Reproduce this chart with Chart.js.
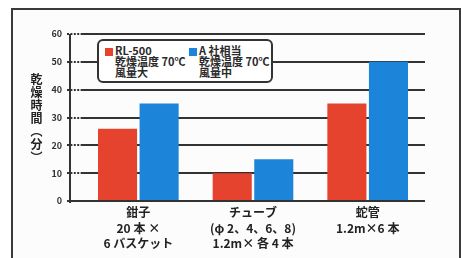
<!DOCTYPE html>
<html><head><meta charset="utf-8">
<script src="https://cdn.jsdelivr.net/npm/chart.js@4/dist/chart.umd.min.js"></script>
<style>
html,body{margin:0;padding:0;background:#fff;}
#wrap{position:relative;width:461px;height:258px;overflow:hidden;}
#frame{position:absolute;left:11px;top:8px;width:446px;height:260px;border:2px solid #3a3a3a;background:#fcfcfc;}
#c{position:absolute;left:0;top:0;}
#ytitle{position:absolute;left:28px;top:73px;writing-mode:vertical-rl;text-orientation:mixed;font:bold 12px "Noto Sans CJK JP";letter-spacing:1px;color:#222;}
#legend{position:absolute;left:97px;top:39px;width:172px;height:40px;border:2px solid #333;border-radius:6px;background:#fff;font:bold 11px/11px "Noto Sans CJK JP";color:#2a2a2a;}
.col{position:absolute;top:4px;}
.sw{position:absolute;left:0;top:3px;width:8px;height:8px;}
.txt{position:absolute;left:10px;top:0;white-space:nowrap;}
</style></head>
<body><div id="wrap"><div id="frame"></div><canvas id="c" width="461" height="258"></canvas>
<div id="ytitle"></div><div id="legend"></div></div>
<script>
const categories = [["鉗子","20 本 ×","6 バスケット"],["チューブ","(φ 2、4、6、8)","1.2m× 各 4 本"],["蛇管","1.2m×6 本"]];
const seriesNames = [["RL-500","乾燥温度 70℃","風量大"],["A 社相当","乾燥温度 70℃","風量中"]];
const rl500 = [26, 10, 35];
const companyA = [35, 15, 50];
const yTicks = [0,10,20,30,40,50,60];
const yTitle = "乾燥時間（分）";
const colors = ["#e5432d","#1c84d9"];

document.getElementById('ytitle').textContent = yTitle;
const leg = document.getElementById('legend');
[6, 90].forEach((x,i)=>{
  const col=document.createElement('div');col.className='col';col.style.left=x+'px';
  const sw=document.createElement('div');sw.className='sw';sw.style.background=colors[i];col.appendChild(sw);
  const t=document.createElement('div');t.className='txt';t.innerHTML=seriesNames[i].join('<br>');col.appendChild(t);
  leg.appendChild(col);
});

const axisPlugin = {
  id:'axisLines',
  afterDraw(chart){
    const {ctx, chartArea:a} = chart;
    ctx.save();
    ctx.strokeStyle='#333';ctx.lineWidth=2;ctx.setLineDash([]);
    ctx.beginPath();ctx.moveTo(a.left-11,a.bottom);ctx.lineTo(a.right-2,a.bottom);ctx.stroke();
    ctx.beginPath();ctx.moveTo(a.left-11,a.top);ctx.lineTo(a.left-11,a.bottom+2);ctx.stroke();
    ctx.restore();
  }
};

new Chart(document.getElementById('c'),{
  type:'bar',
  data:{labels:categories,datasets:[
    {label:seriesNames[0][0],data:rl500,backgroundColor:colors[0]},
    {label:seriesNames[1][0],data:companyA,backgroundColor:colors[1]}
  ]},
  options:{
    responsive:false,animation:false,
    layout:{padding:{left:0,right:36,top:34,bottom:0}},
    datasets:{bar:{categoryPercentage:0.725,barPercentage:0.94}},
    plugins:{legend:{display:false},tooltip:{enabled:false}},
    scales:{
      x:{
        grid:{display:false,drawTicks:false},
        border:{display:false},
        ticks:{padding:3,color:'#222',font:{family:'"Noto Sans CJK JP"',size:12,weight:'bold',lineHeight:1.33}},
        afterFit(s){s.height=57;}
      },
      y:{
        min:0,max:60,
        afterBuildTicks(s){s.ticks=yTicks.map(v=>({value:v}));},
        grid:{color:'#333',lineWidth:2,borderDash:[2,1.4],tickLength:14,tickColor:'#333',tickWidth:2,tickBorderDash:[2,1.4]},
        border:{display:false},
        ticks:{padding:5,color:'#333',font:{family:'"Noto Sans CJK JP"',size:9,weight:'bold'}},
        afterFit(s){s.width=81;}
      }
    }
  },
  plugins:[axisPlugin]
});
</script></body></html>
